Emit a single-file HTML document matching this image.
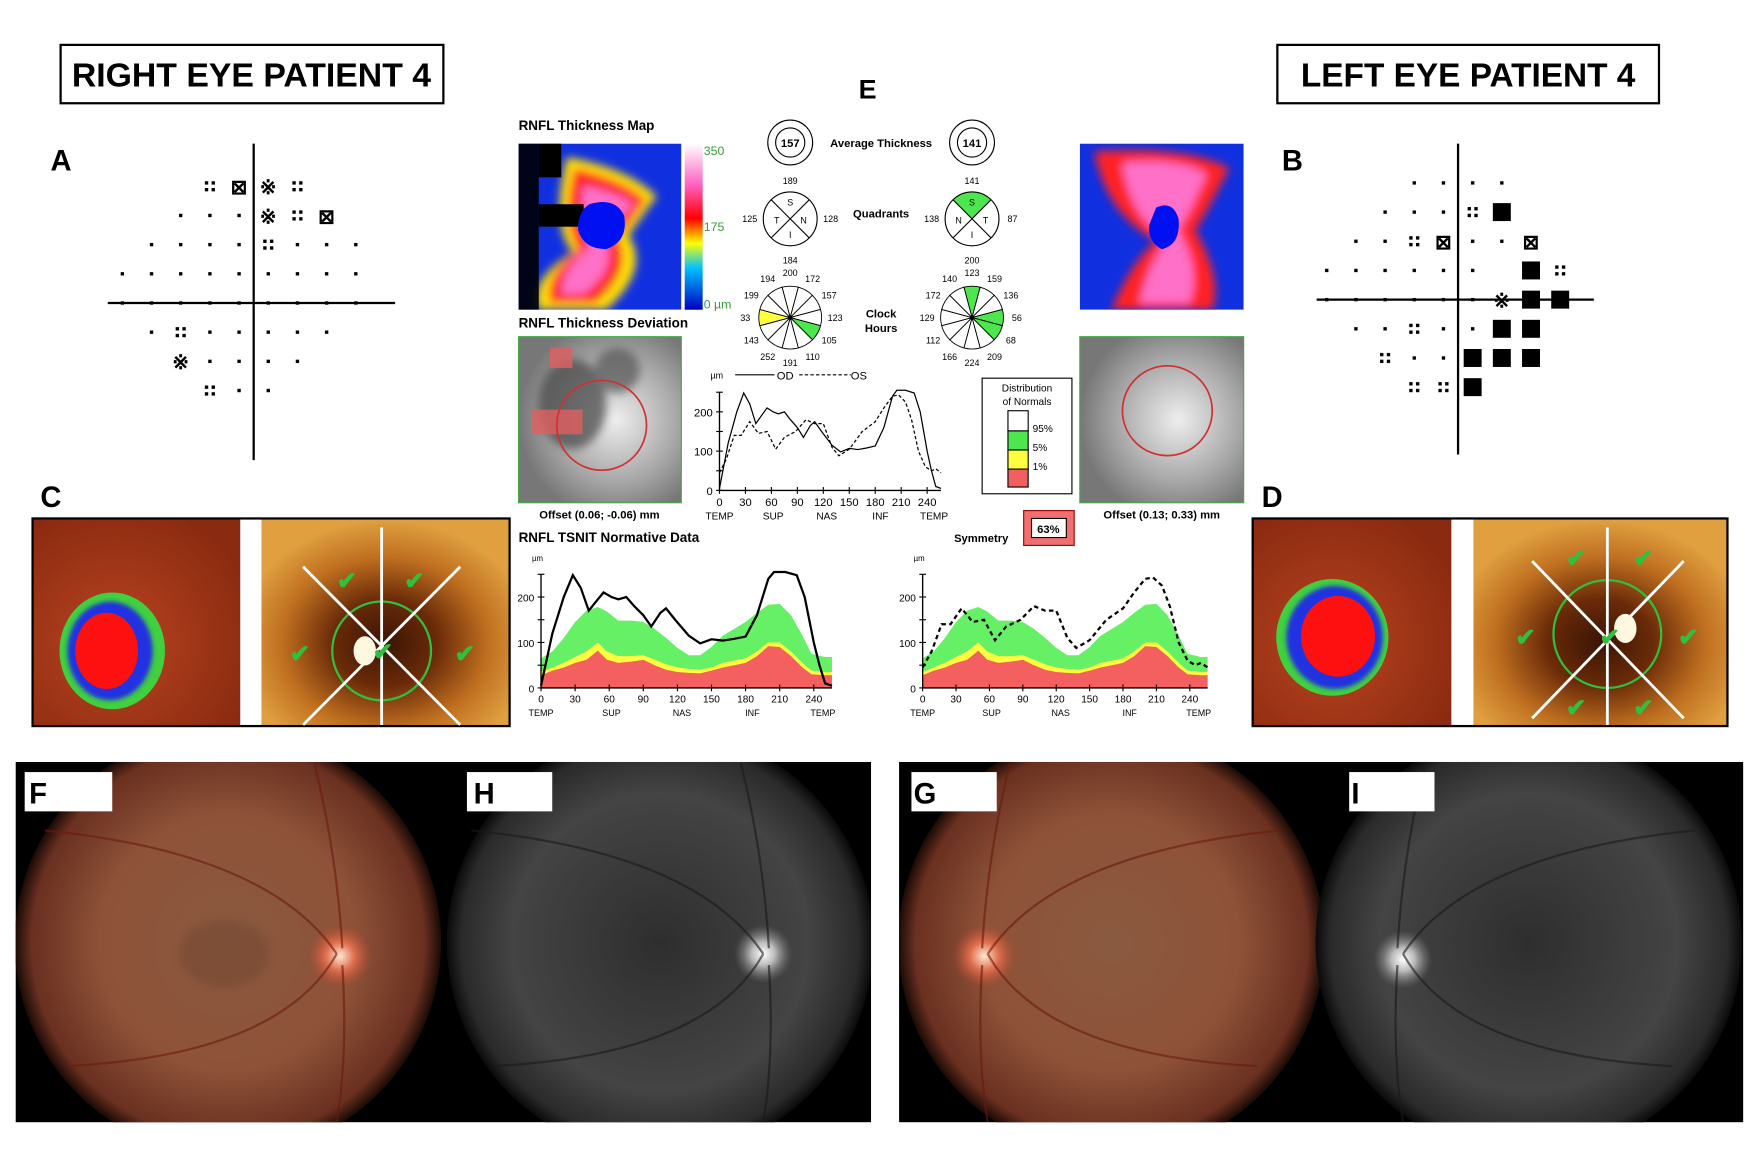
<!DOCTYPE html>
<html><head><meta charset="utf-8"><style>
html,body{margin:0;padding:0;background:#fff}
svg{display:block;font-family:"Liberation Sans",sans-serif}
</style></head><body>
<svg id="fig" width="1760" height="1157" viewBox="0 0 1568 1031" preserveAspectRatio="none">
<defs>
<filter id="blur4"><feGaussianBlur stdDeviation="4"/></filter>
<filter id="blur2"><feGaussianBlur stdDeviation="2"/></filter>
<radialGradient id="fundusC" cx="0.5" cy="0.5" r="0.5"><stop offset="0" stop-color="#8a5a40"/><stop offset="0.6" stop-color="#8e5238"/><stop offset="0.92" stop-color="#6a3020"/><stop offset="1" stop-color="#1a0a05"/></radialGradient>
<radialGradient id="fundusG" cx="0.5" cy="0.5" r="0.5"><stop offset="0" stop-color="#2e2e2e"/><stop offset="0.7" stop-color="#444"/><stop offset="0.93" stop-color="#2a2a2a"/><stop offset="1" stop-color="#0a0a0a"/></radialGradient>
<radialGradient id="disc" cx="0.5" cy="0.5" r="0.5"><stop offset="0" stop-color="#ffe8d0"/><stop offset="0.45" stop-color="#e07050"/><stop offset="1" stop-color="#c04a30" stop-opacity="0"/></radialGradient>
<radialGradient id="discG" cx="0.5" cy="0.5" r="0.5"><stop offset="0" stop-color="#ffffff"/><stop offset="0.4" stop-color="#bbbbbb"/><stop offset="1" stop-color="#777" stop-opacity="0"/></radialGradient>
<radialGradient id="gold" cx="0.5" cy="0.6" r="0.6"><stop offset="0" stop-color="#3a1505"/><stop offset="0.35" stop-color="#6a2a08"/><stop offset="0.7" stop-color="#c07020"/><stop offset="1" stop-color="#e0a040"/></radialGradient>
<radialGradient id="redBg" cx="0.4" cy="0.6" r="0.7"><stop offset="0" stop-color="#b84420"/><stop offset="1" stop-color="#8a2a10"/></radialGradient>
<linearGradient id="cbar" x1="0" y1="0" x2="0" y2="1"><stop offset="0" stop-color="#ffffff"/><stop offset="0.25" stop-color="#ff60c0"/><stop offset="0.45" stop-color="#ff0000"/><stop offset="0.6" stop-color="#ffff00"/><stop offset="0.75" stop-color="#00c0ff"/><stop offset="1" stop-color="#0000c0"/></linearGradient>
<radialGradient id="devG" cx="0.6" cy="0.5" r="0.6"><stop offset="0" stop-color="#eee"/><stop offset="0.6" stop-color="#aaa"/><stop offset="1" stop-color="#777"/></radialGradient>
<clipPath id="mapL"><rect x="462" y="128" width="145" height="148"/></clipPath>
<clipPath id="mapR"><rect x="962" y="128" width="146" height="148"/></clipPath>
<clipPath id="fundL"><rect x="14" y="679" width="762" height="321"/></clipPath>
<clipPath id="fundR"><rect x="801" y="679" width="752" height="321"/></clipPath>
</defs>

<!-- Titles -->
<rect x="54" y="40" width="341" height="52" fill="#fff" stroke="#000" stroke-width="2"/>
<text x="224" y="77" text-anchor="middle" font-size="30" font-weight="bold" textLength="320" lengthAdjust="spacingAndGlyphs">RIGHT EYE PATIENT 4</text>
<rect x="1138" y="40" width="340" height="52" fill="#fff" stroke="#000" stroke-width="2"/>
<text x="1308" y="77" text-anchor="middle" font-size="30" font-weight="bold" textLength="298" lengthAdjust="spacingAndGlyphs">LEFT EYE PATIENT 4</text>

<text x="45" y="152" font-size="26" font-weight="bold">A</text>
<text x="1142" y="152" font-size="26" font-weight="bold">B</text>
<text x="36" y="452" font-size="26" font-weight="bold">C</text>
<text x="1124" y="452" font-size="26" font-weight="bold">D</text>
<text x="765" y="88" font-size="24" font-weight="bold">E</text>

<!-- Visual fields -->
<g id="vfA">
<line x1="226" y1="128" x2="226" y2="410" stroke="#000" stroke-width="2"/>
<line x1="96" y1="270" x2="352" y2="270" stroke="#000" stroke-width="2"/>
</g>
<g id="vfB">
<line x1="1299" y1="128" x2="1299" y2="405" stroke="#000" stroke-width="2"/>
<line x1="1173" y1="267" x2="1420" y2="267" stroke="#000" stroke-width="2"/>
</g>

<!-- C panel -->
<g>
<rect x="28" y="461" width="427" height="187" fill="#000"/>
<rect x="30" y="463" width="184" height="183" fill="url(#redBg)"/>
<ellipse cx="100" cy="580" rx="47" ry="52" fill="#40d040"/>
<ellipse cx="98" cy="580" rx="38" ry="44" fill="#2030e0" filter="url(#blur2)"/>
<ellipse cx="95" cy="580" rx="28" ry="34" fill="#ff1010"/>
<rect x="214" y="463" width="19" height="183" fill="#fff"/>
<rect x="233" y="463" width="220" height="183" fill="url(#gold)"/>
<circle cx="340" cy="580" r="44" fill="none" stroke="#30c040" stroke-width="2"/>
<g stroke="#fff" stroke-width="2.5"><line x1="340" y1="470" x2="340" y2="646"/><line x1="270" y1="505" x2="410" y2="646"/><line x1="410" y1="505" x2="270" y2="646"/></g>
<ellipse cx="325" cy="580" rx="10" ry="13" fill="#fff8e0"/>
<g fill="#30c040" font-size="22" font-weight="bold"><text x="300" y="525">✔</text><text x="360" y="525">✔</text><text x="258" y="590">✔</text><text x="405" y="590">✔</text><text x="332" y="588">✔</text></g>
</g>
<g>
<rect x="1115" y="461" width="425" height="187" fill="#000"/>
<rect x="1117" y="463" width="176" height="183" fill="url(#redBg)"/>
<ellipse cx="1187" cy="568" rx="50" ry="52" fill="#40d040"/>
<ellipse cx="1189" cy="568" rx="43" ry="46" fill="#2030e0" filter="url(#blur2)"/>
<ellipse cx="1192" cy="567" rx="33" ry="36" fill="#ff1010"/>
<rect x="1293" y="463" width="20" height="183" fill="#fff"/>
<rect x="1313" y="463" width="225" height="183" fill="url(#gold)"/>
<circle cx="1432" cy="565" r="48" fill="none" stroke="#30c040" stroke-width="2"/>
<g stroke="#fff" stroke-width="2.5"><line x1="1432" y1="470" x2="1432" y2="646"/><line x1="1365" y1="500" x2="1500" y2="640"/><line x1="1500" y1="500" x2="1365" y2="640"/></g>
<ellipse cx="1448" cy="560" rx="10" ry="13" fill="#fff8e0"/>
<g fill="#30c040" font-size="22" font-weight="bold"><text x="1395" y="505">✔</text><text x="1455" y="505">✔</text><text x="1350" y="575">✔</text><text x="1495" y="575">✔</text><text x="1395" y="638">✔</text><text x="1455" y="638">✔</text><text x="1425" y="575">✔</text></g>
</g>

<!-- Center panel -->
<g>
<text x="462" y="116" font-size="12" font-weight="bold">RNFL Thickness Map</text>
<g clip-path="url(#mapL)">
<rect x="462" y="128" width="145" height="148" fill="#1030e0"/>
<g filter="url(#blur4)">
<path d="M505 140 Q560 150 585 175 Q570 195 560 210 Q580 240 540 276 L480 276 Q470 250 510 225 Q490 200 505 140Z" fill="#ffe000"/>
<path d="M512 150 Q555 160 575 178 Q560 200 550 212 Q565 240 530 270 L490 270 Q485 245 515 222 Q500 195 512 150Z" fill="#ff2020"/>
<path d="M520 165 Q550 172 565 182 Q545 200 540 214 Q550 240 520 262 L500 262 Q500 240 525 220 Q515 190 520 165Z" fill="#ff70c8"/>
</g>
<rect x="462" y="128" width="18" height="148" fill="#000" opacity="0.9"/>
<rect x="480" y="128" width="20" height="30" fill="#000"/>
<rect x="480" y="182" width="40" height="20" fill="#000"/>
<path d="M525 182 Q548 175 556 192 Q560 215 540 222 Q520 222 515 205 Q515 188 525 182Z" fill="#0010f0"/>
</g>
<rect x="610" y="128" width="16" height="148" fill="url(#cbar)"/>
<text x="627" y="138" font-size="11" fill="#3a9a3a">350</text>
<text x="627" y="206" font-size="11" fill="#3a9a3a">175</text>
<text x="627" y="275" font-size="11" fill="#3a9a3a">0 µm</text>

<text x="462" y="292" font-size="12" font-weight="bold">RNFL Thickness Deviation</text>
<rect x="462" y="300" width="145" height="148" fill="url(#devG)" stroke="#4a4"/>
<g filter="url(#blur4)" opacity="0.7"><ellipse cx="510" cy="360" rx="30" ry="40" fill="#444"/><ellipse cx="550" cy="330" rx="20" ry="20" fill="#555"/></g>
<rect x="474" y="365" width="45" height="22" fill="#e06060" opacity="0.8"/>
<rect x="490" y="310" width="20" height="18" fill="#e06060" opacity="0.8"/>
<circle cx="536" cy="379" r="40" fill="none" stroke="#d03030" stroke-width="1.5"/>
<text x="534" y="462" text-anchor="middle" font-size="10" font-weight="bold">Offset (0.06; -0.06) mm</text>

<g clip-path="url(#mapR)">
<rect x="962" y="128" width="146" height="148" fill="#1030e0"/>
<g filter="url(#blur4)">
<path d="M975 135 Q1060 130 1095 150 Q1075 190 1065 205 Q1090 250 1080 276 L990 276 Q1010 230 1030 215 Q985 190 975 135Z" fill="#ff2020"/>
<path d="M1000 145 Q1050 140 1075 155 Q1060 190 1050 205 Q1070 240 1060 270 L1015 270 Q1025 230 1040 215 Q1005 190 1000 145Z" fill="#ff70c8"/>
</g>
<path d="M1030 185 Q1045 178 1050 195 Q1052 218 1035 222 Q1022 215 1024 200Z" fill="#0010f0"/>
</g>
<rect x="962" y="300" width="146" height="148" fill="url(#devG)" stroke="#4a4"/>
<circle cx="1040" cy="366" r="40" fill="none" stroke="#d03030" stroke-width="1.5"/>
<text x="1035" y="462" text-anchor="middle" font-size="10" font-weight="bold">Offset (0.13; 0.33) mm</text>

<g fill="none" stroke="#000"><circle cx="704" cy="127" r="20"/><circle cx="704" cy="127" r="13"/><circle cx="866" cy="127" r="20"/><circle cx="866" cy="127" r="13"/></g>
<text x="704" y="131" text-anchor="middle" font-size="10" font-weight="bold">157</text>
<text x="866" y="131" text-anchor="middle" font-size="10" font-weight="bold">141</text>
<text x="785" y="131" text-anchor="middle" font-size="10" font-weight="bold">Average Thickness</text>
<text x="785" y="194" text-anchor="middle" font-size="10" font-weight="bold">Quadrants</text>
<text x="785" y="283" text-anchor="middle" font-size="10" font-weight="bold">Clock</text>
<text x="785" y="296" text-anchor="middle" font-size="10" font-weight="bold">Hours</text>
<g id="quads"></g>
<g id="clocks"></g>

<g id="tsnitCenter"></g>
<g>
<rect x="875" y="337" width="80" height="103" fill="#fff" stroke="#000"/>
<text x="915" y="349" text-anchor="middle" font-size="9">Distribution</text>
<text x="915" y="361" text-anchor="middle" font-size="9">of Normals</text>
<rect x="898" y="366" width="18" height="18" fill="#fff" stroke="#000"/>
<rect x="898" y="384" width="18" height="17" fill="#4ee64e" stroke="#000"/>
<rect x="898" y="401" width="18" height="17" fill="#ffff40" stroke="#000"/>
<rect x="898" y="418" width="18" height="16" fill="#f06060" stroke="#000"/>
<text x="920" y="385" font-size="9">95%</text><text x="920" y="402" font-size="9">5%</text><text x="920" y="419" font-size="9">1%</text>
</g>
<rect x="912" y="455" width="45" height="31" fill="#f07070" stroke="#900"/>
<rect x="919" y="462" width="31" height="17" fill="#fff" stroke="#000"/>
<text x="934" y="475" text-anchor="middle" font-size="10" font-weight="bold">63%</text>
<text x="850" y="483" font-size="10" font-weight="bold">Symmetry</text>
<text x="462" y="483" font-size="12" font-weight="bold">RNFL TSNIT Normative Data</text>
<g id="tsnitL"></g>
<g id="tsnitR"></g>
</g>

<!-- Fundus -->
<g>
<rect x="14" y="679" width="762" height="321" fill="#000"/>
<g clip-path="url(#fundL)">
<circle cx="203" cy="840" r="190" fill="url(#fundusC)"/>
<ellipse cx="200" cy="850" rx="40" ry="30" fill="#5a3020" opacity="0.25" filter="url(#blur4)"/>
<circle cx="303" cy="852" r="28" fill="url(#disc)"/>
<g stroke="#6a1a10" stroke-width="2" fill="none" opacity="0.6"><path d="M300 850 Q240 760 40 740"/><path d="M300 850 Q250 940 60 950"/><path d="M305 845 Q300 760 280 680"/><path d="M305 860 Q310 940 300 1000"/></g>
<circle cx="588" cy="840" r="190" fill="url(#fundusG)"/>
<circle cx="680" cy="850" r="26" fill="url(#discG)"/>
<g stroke="#1a1a1a" stroke-width="2" fill="none" opacity="0.6"><path d="M680 850 Q620 760 420 740"/><path d="M680 850 Q630 940 440 950"/><path d="M685 845 Q680 760 660 680"/><path d="M685 860 Q690 940 680 1000"/></g>
</g>
<rect x="22" y="688" width="78" height="35" fill="#fff"/><text x="26" y="716" font-size="26" font-weight="bold">F</text>
<rect x="416" y="688" width="76" height="35" fill="#fff"/><text x="422" y="716" font-size="26" font-weight="bold">H</text>
</g>
<g>
<rect x="801" y="679" width="752" height="321" fill="#000"/>
<g clip-path="url(#fundR)">
<circle cx="990" cy="840" r="190" fill="url(#fundusC)"/>
<circle cx="877" cy="852" r="28" fill="url(#disc)"/>
<g stroke="#6a1a10" stroke-width="2" fill="none" opacity="0.6"><path d="M880 850 Q940 760 1140 740"/><path d="M880 850 Q930 940 1120 950"/><path d="M875 845 Q880 760 900 680"/><path d="M875 860 Q870 940 880 1000"/></g>
<circle cx="1362" cy="840" r="190" fill="url(#fundusG)"/>
<circle cx="1250" cy="855" r="26" fill="url(#discG)"/>
<g stroke="#1a1a1a" stroke-width="2" fill="none" opacity="0.6"><path d="M1250 850 Q1310 760 1510 740"/><path d="M1250 850 Q1300 940 1490 950"/><path d="M1245 845 Q1250 760 1270 680"/><path d="M1245 860 Q1240 940 1250 1000"/></g>
</g>
<rect x="812" y="688" width="76" height="35" fill="#fff"/><text x="814" y="716" font-size="26" font-weight="bold">G</text>
<rect x="1202" y="688" width="76" height="35" fill="#fff"/><text x="1204" y="716" font-size="26" font-weight="bold">I</text>
</g>
</svg>
<script>
// ---- data ----
const odX = [0,10,20,28,35,42,50,55,62,68,75,82,90,97,105,110,118,130,140,150,160,170,180,190,200,205,215,225,232,240,245,250,256];
const odY = [5,120,200,248,220,170,195,210,200,195,200,180,160,135,165,175,150,115,98,107,104,108,113,160,240,255,255,248,200,100,50,10,5];
const osX = [0,8,17,25,35,45,55,65,75,88,100,110,120,130,138,150,165,180,190,200,207,215,222,230,238,245,250,256];
const osY = [45,80,140,140,175,145,150,105,135,150,180,170,170,110,88,105,150,175,210,240,243,225,180,100,60,50,55,45];
const normX = [0,10,20,30,40,50,58,68,80,90,100,110,120,130,140,150,160,170,180,190,200,210,220,230,238,250,256];
const greenHi = [65,80,110,145,170,178,168,148,148,145,130,110,88,72,72,90,115,130,145,165,183,185,160,115,75,68,68];
const yellowHi = [35,45,55,68,80,100,80,70,70,72,62,52,45,42,40,45,55,60,65,80,100,100,80,55,38,35,35];
const redHi = [28,38,45,55,62,82,62,55,58,62,50,40,35,33,32,38,45,50,55,70,92,90,70,45,30,28,28];
const tickXLabels = ['0','30','60','90','120','150','180','210','240'];
const regionLabels = ['TEMP','SUP','NAS','INF','TEMP'];
const quadOD = {top:'189',left:'125',right:'128',bottom:'184',letters:['S','T','N','I']};
const quadOS = {top:'141',left:'138',right:'87',bottom:'200',letters:['S','N','T','I']};
const clockOD = ['200','172','157','123','105','110','191','252','143','33','199','194'];
const clockOS = ['123','159','136','56','68','209','224','166','112','129','172','140'];
const clockOSColors = ['#4ee64e','','','#4ee64e','#4ee64e','','','','','','',''];
const clockODColors = ['','','','','#4ee64e','','','','','#ffff40','',''];

const NS='http://www.w3.org/2000/svg';
function mk(tag, attrs, parent){const e=document.createElementNS(NS,tag);for(const k in attrs)e.setAttribute(k,attrs[k]);parent.appendChild(e);return e;}

function drawTSNIT(g, x0, x1, y0, y100, opts){
  const sx = v => x0 + (x1-x0)*v/240;
  const sy = v => y0 - (y0-y100)*v/100;
  if(opts.bands){
    const band=(arr,col,name)=>{let d='M'+sx(0)+' '+sy(0);normX.forEach((x,i)=>d+=' L'+sx(x)+' '+sy(arr[i]));d+=' L'+sx(256)+' '+sy(0)+'Z';
      const p=mk('path',{d:d,fill:col},g);
      
      };
    band(greenHi,'#66f066','green-band');band(yellowHi,'#ffff40','yellow-band');band(redHi,'#f46060','red-band');
  }
  const ax=mk('path',{d:'M'+sx(0)+' '+sy(250)+' L'+sx(0)+' '+sy(0)+' L'+sx(256)+' '+sy(0),stroke:'#000',fill:'none','stroke-width':1.2},g);
  
  
  [0,50,100,150,200,250].forEach(v=>{mk('line',{x1:sx(0)-3,x2:sx(0)+3,y1:sy(v),y2:sy(v),stroke:'#000'},g);
    if(v%100===0){const t=mk('text',{x:sx(0)-6,y:sy(v)+4,'text-anchor':'end','font-size':opts.fs},g);t.textContent=v;
      
      }});
  tickXLabels.forEach((l,i)=>{const v=i*30;mk('line',{x1:sx(v),x2:sx(v),y1:sy(0)-3,y2:sy(0)+3,stroke:'#000'},g);
    const t=mk('text',{x:sx(v),y:sy(0)+opts.fs+4,'text-anchor':'middle','font-size':opts.fs},g);t.textContent=l;
    
    });
  regionLabels.forEach((l,i)=>{const t=mk('text',{x:sx(i*62),y:sy(0)+opts.fs*2+opts.gap,'text-anchor':'middle','font-size':opts.fs-1},g);t.textContent=l;
    
    });
  const um=mk('text',{x:sx(0)-8,y:sy(250)-12,'font-size':opts.fs-2},g);um.textContent='µm';
  
  
  const line=(xs,ys,dash,name)=>{let d='';xs.forEach((x,i)=>d+=(i?' L':'M')+sx(x)+' '+sy(ys[i]));
    const p=mk('path',{d:d,fill:'none',stroke:'#000','stroke-width':opts.lw,'stroke-dasharray':dash},g);
    
    };
  if(opts.od) line(odX,odY,'',"od-line");
  if(opts.os) line(osX,osY,opts.osDash,"os-line");
}
drawTSNIT(document.getElementById('tsnitCenter'),641,826,437,402,{fs:10,gap:6,lw:1.1,od:true,os:true,osDash:'3,2'});
drawTSNIT(document.getElementById('tsnitL'),482,725,613,572.5,{fs:9,gap:7,lw:2,bands:true,od:true});
drawTSNIT(document.getElementById('tsnitR'),822,1060,613,572.5,{fs:9,gap:7,lw:2,bands:true,os:true,osDash:'4,3'});
(function(){const g=document.getElementById('tsnitCenter');
  mk('line',{x1:655,x2:690,y1:334,y2:334,stroke:'#000'},g);
  const a=mk('text',{x:692,y:338,'font-size':10},g);a.textContent='OD';
  mk('line',{x1:712,x2:758,y1:334,y2:334,stroke:'#000','stroke-dasharray':'3,2'},g);
  const b=mk('text',{x:758,y:338,'font-size':10},g);b.textContent='OS';})();

function quad(cx,cy,q){const g=document.getElementById('quads');const r=24;
  if(q===quadOS){mk('path',{d:`M${cx} ${cy} L${cx-r*0.707} ${cy-r*0.707} A${r} ${r} 0 0 1 ${cx+r*0.707} ${cy-r*0.707}Z`,fill:'#4ee64e'},g);}
  const c=mk('circle',{cx:cx,cy:cy,r:r,fill:'none',stroke:'#000'},g);
  
  
  mk('line',{x1:cx-r*0.707,y1:cy-r*0.707,x2:cx+r*0.707,y2:cy+r*0.707,stroke:'#000'},g);
  mk('line',{x1:cx+r*0.707,y1:cy-r*0.707,x2:cx-r*0.707,y2:cy+r*0.707,stroke:'#000'},g);
  const pos=[[0,-12],[-12,4],[12,4],[0,17]];
  q.letters.forEach((l,i)=>{const t=mk('text',{x:cx+pos[i][0],y:cy+pos[i][1],'text-anchor':'middle','font-size':8},g);t.textContent=l;});
  [[q.top,0,-31],[q.left,-36,3],[q.right,36,3],[q.bottom,0,40]].forEach(p=>{const t=mk('text',{x:cx+p[1],y:cy+p[2],'text-anchor':'middle','font-size':8},g);t.textContent=p[0];
    
    });
}
quad(704,195,quadOD);quad(866,195,quadOS);

function clock(cx,cy,vals,cols,mirror){const g=document.getElementById('clocks');const r=28;
  for(let i=0;i<12;i++){let a=(i*30-90)*Math.PI/180;if(mirror) a=(-i*30-90)*Math.PI/180;
    const a1=a-Math.PI/12,a2=a+Math.PI/12;
    const p=mk('path',{d:`M${cx} ${cy} L${cx+r*Math.cos(a1)} ${cy+r*Math.sin(a1)} A${r} ${r} 0 0 1 ${cx+r*Math.cos(a2)} ${cy+r*Math.sin(a2)}Z`,fill:cols[i]||'#fff',stroke:'#000','stroke-width':0.8},g);
    
    
    const t=mk('text',{x:cx+(r+12)*Math.cos(a),y:cy+(r+12)*Math.sin(a)+3,'text-anchor':'middle','font-size':8},g);t.textContent=vals[i];
    
    }
  mk('circle',{cx:cx,cy:cy,r:2,fill:'#000'},g);
}
clock(704,283,clockOD,clockODColors,false);clock(866,283,clockOS,clockOSColors,false);

// visual field symbols
function vf(id,ax,ay,pts){const g=document.getElementById(id);
  pts.forEach(p=>{const x=ax+p[0]*26,y=ay+p[1]*26;
    if(p[2]==='.'){mk('rect',{x:x-1.5,y:y-1.5,width:3,height:3,fill:'#000'},g);}
    else if(p[2]===':'){[[-3,-3],[3,-3],[-3,3],[3,3]].forEach(o=>mk('rect',{x:x+o[0]-1.5,y:y+o[1]-1.5,width:3,height:3,fill:'#000'},g));}
    else if(p[2]==='#'){mk('rect',{x:x-8,y:y-8,width:16,height:16,fill:'#000'},g);}
    else {const t=mk('text',{x:x,y:y+7,'text-anchor':'middle','font-size':18,'font-weight':'bold'},g);t.textContent=p[2]==='x'?'⊠':'※';}
  });}
vf('vfA',226-13,270-13,[[-1,-3.5,':'],[0,-3.5,'x'],[1,-3.5,'s'],[2,-3.5,':'],
 [-2,-2.5,'.'],[-1,-2.5,'.'],[0,-2.5,'.'],[1,-2.5,'s'],[2,-2.5,':'],[3,-2.5,'x'],
 [-3,-1.5,'.'],[-2,-1.5,'.'],[-1,-1.5,'.'],[0,-1.5,'.'],[1,-1.5,':'],[2,-1.5,'.'],[3,-1.5,'.'],[4,-1.5,'.'],
 [-4,-0.5,'.'],[-3,-0.5,'.'],[-2,-0.5,'.'],[-1,-0.5,'.'],[0,-0.5,'.'],[1,-0.5,'.'],[2,-0.5,'.'],[3,-0.5,'.'],[4,-0.5,'.'],
 [-4,0.5,'.'],[-3,0.5,'.'],[-2,0.5,'.'],[-1,0.5,'.'],[0,0.5,'.'],[1,0.5,'.'],[2,0.5,'.'],[3,0.5,'.'],[4,0.5,'.'],
 [-3,1.5,'.'],[-2,1.5,':'],[-1,1.5,'.'],[0,1.5,'.'],[1,1.5,'.'],[2,1.5,'.'],[3,1.5,'.'],
 [-2,2.5,'s'],[-1,2.5,'.'],[0,2.5,'.'],[1,2.5,'.'],[2,2.5,'.'],
 [-1,3.5,':'],[0,3.5,'.'],[1,3.5,'.']]);
vf('vfB',1299-13,267-13,[[-1,-3.5,'.'],[0,-3.5,'.'],[1,-3.5,'.'],[2,-3.5,'.'],
 [-2,-2.5,'.'],[-1,-2.5,'.'],[0,-2.5,'.'],[1,-2.5,':'],[2,-2.5,'#'],
 [-3,-1.5,'.'],[-2,-1.5,'.'],[-1,-1.5,':'],[0,-1.5,'x'],[1,-1.5,'.'],[2,-1.5,'.'],[3,-1.5,'x'],
 [-4,-0.5,'.'],[-3,-0.5,'.'],[-2,-0.5,'.'],[-1,-0.5,'.'],[0,-0.5,'.'],[1,-0.5,'.'],[3,-0.5,'#'],[4,-0.5,':'],
 [-4,0.5,'.'],[-3,0.5,'.'],[-2,0.5,'.'],[-1,0.5,'.'],[0,0.5,'.'],[1,0.5,'.'],[2,0.5,'s'],[3,0.5,'#'],[4,0.5,'#'],
 [-3,1.5,'.'],[-2,1.5,'.'],[-1,1.5,':'],[0,1.5,'.'],[1,1.5,'.'],[2,1.5,'#'],[3,1.5,'#'],
 [-2,2.5,':'],[-1,2.5,'.'],[0,2.5,'.'],[1,2.5,'#'],[2,2.5,'#'],[3,2.5,'#'],
 [-1,3.5,':'],[0,3.5,':'],[1,3.5,'#']]);
</script>
</body></html>
